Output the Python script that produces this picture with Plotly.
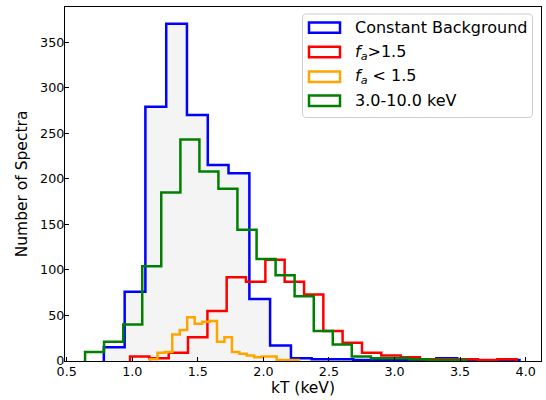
import plotly.graph_objects as go

# ---------------- data ----------------
bg_edges = [0.783, 0.942, 1.100, 1.259, 1.417, 1.576, 1.734, 1.893, 2.051, 2.210, 2.368,
            2.527, 2.685, 2.844, 3.002, 3.161, 3.319, 3.478, 3.636, 3.795, 3.953]
bg_counts = [15, 76, 279, 370, 270, 215, 206, 68, 17, 3, 2, 2, 1, 1, 1, 1, 3, 1, 0, 1]

fa_hi_edges = [0.983, 1.130, 1.278, 1.425, 1.573, 1.720, 1.867, 2.015, 2.162, 2.310, 2.457,
               2.604, 2.752, 2.899, 3.047, 3.194, 3.341, 3.489, 3.636, 3.784, 3.931]
fa_hi_counts = [5, 3, 9, 26, 55, 92, 87, 111, 87, 73, 33, 20, 9, 6, 4, 2, 2, 2, 1, 2]

fa_lo_edges = [1.135, 1.192, 1.249, 1.305, 1.362, 1.419, 1.476, 1.533, 1.589, 1.646, 1.703,
               1.760, 1.817, 1.873, 1.930, 1.987, 2.044, 2.101, 2.157, 2.214, 2.271]
fa_lo_counts = [2, 9, 10, 29, 34, 48, 41, 43, 44, 21, 26, 10, 8, 6, 4, 5, 5, 1, 1, 1]

hard_edges = [0.640, 0.785, 0.931, 1.076, 1.221, 1.367, 1.512, 1.657, 1.802, 1.948, 2.093,
              2.238, 2.384, 2.529, 2.674, 2.820, 2.965, 3.110, 3.255, 3.401, 3.546]
hard_counts = [10, 21, 40, 104, 185, 243, 208, 189, 144, 112, 94, 71, 33, 18, 5, 3, 3, 2, 1, 1]

series_names = ["Constant Background",
                "<i>f</i><sub><i>a</i></sub>&gt;1.5",
                "<i>f</i><sub><i>a</i></sub> &lt; 1.5",
                "3.0-10.0 keV"]
series_colors = ["#0000ff", "#ff0000", "#ffa500", "#008000"]

x_ticks = [0.5, 1.0, 1.5, 2.0, 2.5, 3.0, 3.5, 4.0]
y_ticks = [0, 50, 100, 150, 200, 250, 300, 350]

FONT = "DejaVu Sans"
W, H = 546, 400
ML, MR, MT, MB = 65, 5, 7, 39


def step_xy(edges, counts):
    xs = [edges[0]] + list(edges[:-1]) + [edges[-1], edges[-1]]
    ys = [0] + list(counts) + [counts[-1], 0]
    return xs, ys


fig = go.Figure()

# light grey fill under the constant-background histogram
fx, fy = step_xy(bg_edges, bg_counts)
fig.add_trace(go.Scatter(x=fx, y=fy, mode="lines", line=dict(shape="hv", width=0, color="#f4f4f4"),
                         fill="tozeroy", fillcolor="#f4f4f4", showlegend=False, hoverinfo="skip"))

all_series = [(bg_edges, bg_counts), (fa_hi_edges, fa_hi_counts),
              (fa_lo_edges, fa_lo_counts), (hard_edges, hard_counts)]
for (edges, counts), name, color in zip(all_series, series_names, series_colors):
    xs, ys = step_xy(edges, counts)
    fig.add_trace(go.Scatter(x=xs, y=ys, mode="lines", name=name,
                             line=dict(shape="hv", width=2.5, color=color),
                             showlegend=False))

# ---------------- manual legend (matplotlib style) ----------------
PW = W - ML - MR
PH = H - MT - MB


def PX(px):
    return (px - ML) / PW


def PY(py):
    return (H - MB - py) / PH


def rounded_rect(x0, y0, x1, y1, r):
    pts = [
        ("M", [(x0 + r, y0)]), ("L", [(x1 - r, y0)]), ("Q", [(x1, y0), (x1, y0 + r)]),
        ("L", [(x1, y1 - r)]), ("Q", [(x1, y1), (x1 - r, y1)]), ("L", [(x0 + r, y1)]),
        ("Q", [(x0, y1), (x0, y1 - r)]), ("L", [(x0, y0 + r)]), ("Q", [(x0, y0), (x0 + r, y0)]),
    ]
    s = ""
    for cmd, ps in pts:
        s += cmd + " " + " ".join(f"{PX(a):.5f},{PY(b):.5f}" for a, b in ps) + " "
    return s + "Z"


shapes = [dict(type="path", xref="paper", yref="paper", layer="above",
               path=rounded_rect(302.5, 14, 532.5, 117.5, 4),
               fillcolor="rgba(255,255,255,0.8)", line=dict(color="#cccccc", width=1))]
annotations = []
row_centers = [27.6, 52.0, 76.8, 100.8]
for name, color, cy in zip(series_names, series_colors, row_centers):
    shapes.append(dict(type="rect", xref="paper", yref="paper", layer="above",
                       x0=PX(309), x1=PX(340), y0=PY(cy - 5.2), y1=PY(cy + 5.2),
                       fillcolor="white", line=dict(color=color, width=2.5)))
    annotations.append(dict(xref="paper", yref="paper", x=PX(353), y=PY(cy),
                            xanchor="left", yanchor="middle", showarrow=False,
                            text=name, font=dict(family=FONT, size=16, color="black")))

axis_common = dict(showline=True, mirror=True, linecolor="black", linewidth=1.3,
                   ticks="inside", ticklen=4, tickwidth=1.1, tickcolor="black",
                   showgrid=False, zeroline=False,
                   tickfont=dict(family=FONT, size=12.7, color="black"))

fig.update_layout(
    width=W, height=H,
    margin=dict(l=ML, r=MR, t=MT, b=MB, autoexpand=False),
    paper_bgcolor="white", plot_bgcolor="white",
    showlegend=False,
    shapes=shapes, annotations=annotations,
    xaxis=dict(range=[0.487, 4.117], tickvals=x_ticks, tickformat=".1f",
               ticklabelstandoff=-1,
               title=dict(text="kT (keV)", font=dict(family=FONT, size=15.5, color="black"), standoff=2),
               **axis_common),
    yaxis=dict(range=[0, 388.5], tickvals=y_ticks,
               ticklabelstandoff=-3,
               title=dict(text="Number of Spectra", font=dict(family=FONT, size=15.5, color="black"), standoff=8),
               **axis_common),
)

fig.write_html("out.html", config={"displayModeBar": False},
               post_script="document.body.style.margin='0';document.body.style.overflow='hidden';")
